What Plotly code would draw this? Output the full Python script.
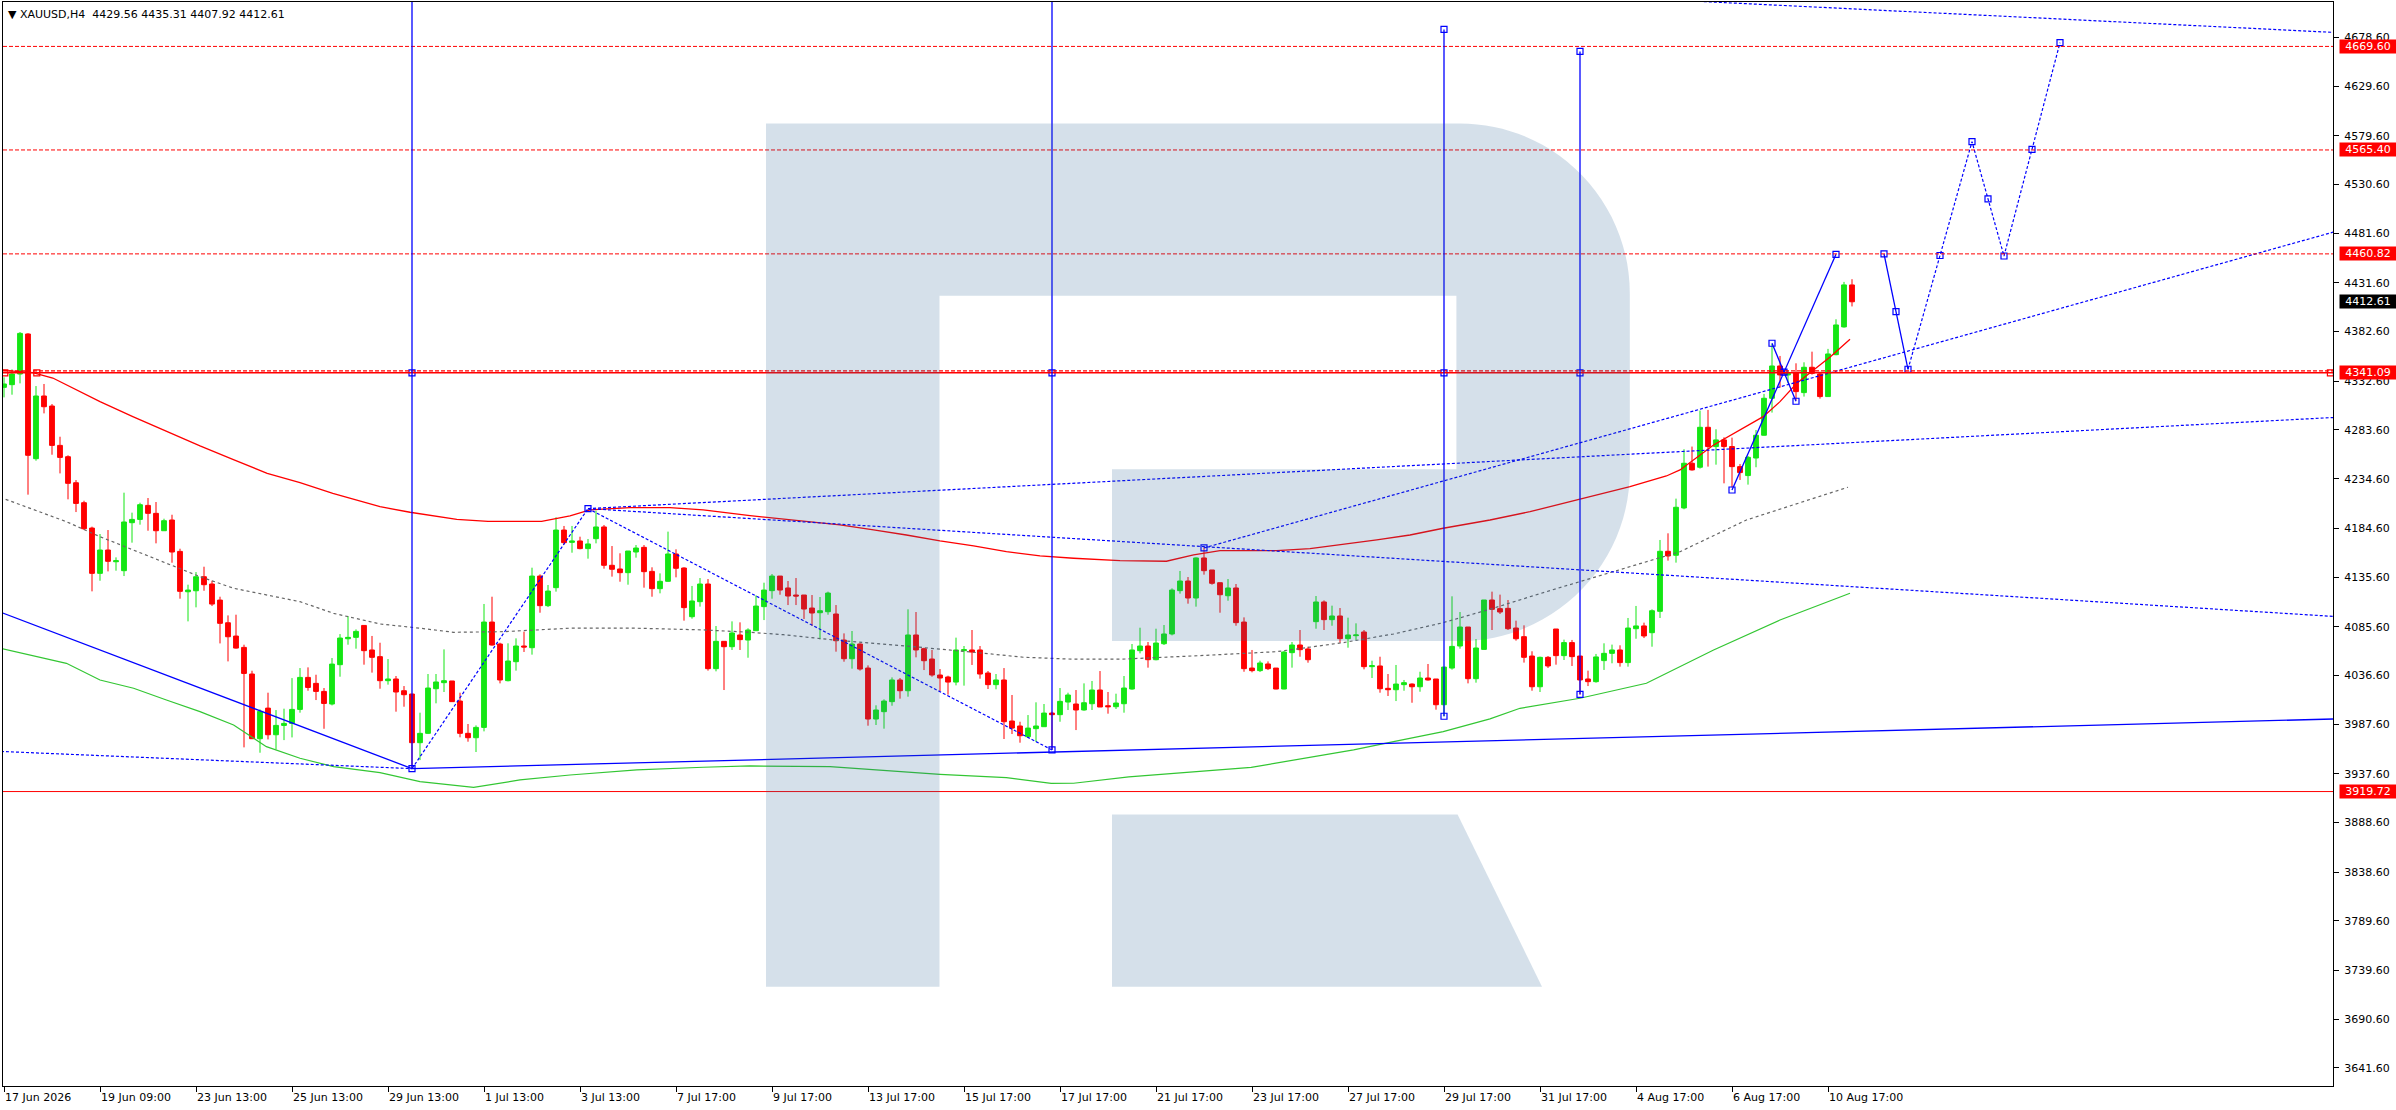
import plotly.graph_objects as go

# ---------------- data ----------------
bar_index = list(range(232))

opens = [4326.5, 4329.2, 4339.9, 4380.2, 4254.7, 4317.8, 4307.7, 4268.1, 4256.7, 4230.5,
         4210.4, 4184.9, 4139.3, 4162.8, 4151.0, 4142.0, 4190.3, 4193.6, 4207.7, 4199.7,
         4182.2, 4193.0, 4161.4, 4120.8, 4121.8, 4135.9, 4128.6, 4112.4, 4089.6, 4076.2,
         4064.8, 4038.0, 3972.9, 4003.7, 3976.9, 3986.3, 3988.3, 4002.4, 4034.6, 4028.6,
         4020.5, 4007.8, 4047.4, 4073.5, 4074.9, 4086.9, 4062.2, 4055.5, 4031.3, 4033.0,
         4021.2, 4017.9, 3968.9, 3978.3, 4023.2, 4029.3, 4031.0, 4010.8, 3978.3, 3973.9,
         3984.3, 4090.3, 4068.2, 4031.3, 4050.4, 4066.2, 4064.5, 4136.6, 4106.8, 4124.9,
         4182.9, 4170.5, 4171.9, 4164.2, 4174.2, 4186.0, 4147.4, 4143.7, 4140.0, 4160.8,
         4165.5, 4141.3, 4123.9, 4131.3, 4158.8, 4144.7, 4095.7, 4110.8, 4128.6, 4043.4,
         4070.9, 4065.5, 4077.3, 4072.2, 4081.6, 4105.8, 4121.9, 4136.6, 4124.6, 4117.5,
         4117.5, 4104.4, 4099.7, 4100.7, 4098.4, 4072.2, 4053.4, 4068.2, 4044.0, 3992.7,
         4000.1, 4010.2, 4032.0, 4021.2, 4077.3, 4063.5, 4053.1, 4037.0, 4035.0, 4029.9,
         4061.5, 4062.2, 4062.2, 4039.0, 4027.3, 4032.0, 3990.7, 3985.7, 3974.9, 3983.0,
         3985.0, 3998.7, 3997.1, 4009.8, 4007.8, 4001.8, 4008.1, 4021.9, 4006.1, 4005.1,
         4008.1, 4022.9, 4061.5, 4066.2, 4052.4, 4068.5, 4078.3, 4121.9, 4131.6, 4114.5,
         4154.8, 4142.7, 4129.9, 4116.8, 4124.6, 4090.3, 4044.0, 4041.4, 4048.1, 4044.0,
         4022.9, 4059.5, 4067.2, 4063.2, 4090.7, 4110.5, 4092.7, 4096.4, 4073.6, 4076.6,
         4080.3, 4045.4, 4046.1, 4023.6, 4022.2, 4027.3, 4027.9, 4025.2, 4034.0, 4033.0,
         4007.1, 4044.0, 4066.2, 4085.3, 4033.3, 4062.8, 4112.5, 4103.8, 4104.1, 4084.3,
         4075.6, 4056.1, 4025.2, 4054.8, 4083.3, 4056.5, 4069.6, 4056.1, 4033.0, 4030.3,
         4051.5, 4058.8, 4062.2, 4049.5, 4083.6, 4086.4, 4079.6, 4101.1, 4161.5, 4157.5,
         4205.1, 4250.1, 4246.1, 4286.3, 4266.9, 4273.6, 4266.9, 4246.7, 4237.7, 4255.4,
         4278.3, 4315.5, 4348.0, 4339.0, 4341.3, 4321.2, 4346.7, 4340.0, 4317.2, 4359.4,
         4387.3, 4429.56]

highs = [4336.6, 4344.6, 4382.2, 4381.0, 4327.8, 4329.9, 4309.7, 4276.8, 4258.1, 4233.2,
         4212.4, 4186.3, 4178.9, 4182.9, 4155.4, 4220.5, 4200.4, 4210.4, 4215.1, 4211.1,
         4194.3, 4198.3, 4164.1, 4127.9, 4140.6, 4146.0, 4131.9, 4115.8, 4097.0, 4097.7,
         4067.5, 4041.3, 4002.4, 4019.2, 4001.7, 4003.1, 4033.9, 4044.0, 4044.7, 4037.3,
         4023.9, 4054.1, 4078.2, 4096.3, 4082.9, 4086.9, 4076.3, 4069.5, 4053.1, 4036.0,
         4025.9, 4017.9, 3999.1, 4038.0, 4038.0, 4062.8, 4031.0, 4019.2, 3987.7, 3986.3,
         4108.5, 4115.8, 4069.5, 4068.9, 4073.9, 4080.6, 4145.0, 4138.3, 4127.6, 4195.7,
         4187.0, 4187.0, 4176.2, 4173.9, 4202.4, 4188.0, 4166.8, 4159.5, 4161.8, 4167.8,
         4167.8, 4145.4, 4139.3, 4181.3, 4163.5, 4145.4, 4126.6, 4134.6, 4133.6, 4086.3,
         4070.9, 4091.0, 4090.0, 4084.0, 4117.2, 4129.9, 4138.6, 4136.6, 4131.6, 4134.6,
         4117.5, 4117.5, 4115.5, 4120.9, 4107.4, 4078.9, 4081.3, 4068.9, 4046.7, 4006.5,
         4012.5, 4034.6, 4034.0, 4103.1, 4100.4, 4064.5, 4062.2, 4043.0, 4036.3, 4074.6,
         4066.2, 4082.3, 4066.2, 4041.0, 4038.0, 4044.0, 4016.9, 3990.0, 3996.7, 4009.5,
         4007.8, 4000.0, 4023.9, 4019.2, 4021.9, 4028.6, 4031.0, 4041.0, 4019.9, 4018.2,
         4036.0, 4068.2, 4084.6, 4070.2, 4083.6, 4087.3, 4124.2, 4141.7, 4135.6, 4155.4,
         4165.5, 4142.7, 4129.9, 4133.6, 4128.6, 4095.0, 4062.2, 4051.4, 4050.7, 4044.0,
         4061.1, 4070.2, 4082.3, 4065.5, 4116.5, 4112.1, 4106.8, 4104.4, 4094.7, 4089.0,
         4082.3, 4051.4, 4055.4, 4038.0, 4047.1, 4032.0, 4028.6, 4040.3, 4048.1, 4033.0,
         4045.0, 4116.2, 4100.4, 4085.3, 4073.2, 4112.5, 4120.9, 4117.9, 4112.5, 4091.7,
         4087.0, 4060.9, 4055.5, 4056.1, 4083.3, 4072.6, 4072.3, 4056.1, 4041.4, 4058.2,
         4068.9, 4067.6, 4066.9, 4094.4, 4106.5, 4089.7, 4103.1, 4172.9, 4179.6, 4214.5,
         4264.2, 4266.9, 4303.1, 4303.8, 4284.3, 4276.2, 4275.9, 4249.4, 4257.5, 4283.6,
         4319.9, 4370.2, 4358.1, 4343.3, 4350.7, 4351.7, 4362.4, 4342.3, 4365.2, 4395.0,
         4432.6, 4435.31]

lows = [4316.4, 4319.1, 4330.5, 4218.5, 4252.7, 4300.3, 4258.7, 4239.9, 4213.8, 4201.0,
        4182.9, 4121.2, 4131.9, 4141.3, 4142.0, 4136.6, 4170.2, 4188.3, 4182.2, 4169.5,
        4182.2, 4150.0, 4113.8, 4091.0, 4105.1, 4121.8, 4106.4, 4068.8, 4050.7, 4063.5,
        3964.2, 3972.9, 3958.8, 3972.2, 3962.1, 3971.5, 3974.2, 3999.1, 4021.2, 4011.8,
        3982.9, 4006.4, 4035.3, 4067.5, 4063.5, 4047.4, 4039.4, 4023.2, 4027.3, 4000.1,
        4005.1, 3943.0, 3951.4, 3977.6, 4008.5, 4019.9, 4010.2, 3974.3, 3969.9, 3959.5,
        3980.3, 4066.5, 4028.6, 4030.6, 4041.4, 4060.2, 4057.5, 4099.7, 4105.4, 4120.9,
        4168.2, 4160.1, 4163.5, 4154.1, 4169.5, 4144.0, 4136.0, 4130.9, 4127.9, 4155.1,
        4124.9, 4115.8, 4119.2, 4130.9, 4135.3, 4091.7, 4093.7, 4105.8, 4041.4, 4040.7,
        4021.9, 4062.2, 4062.2, 4054.4, 4081.6, 4092.3, 4113.8, 4117.8, 4107.4, 4107.4,
        4093.4, 4086.3, 4072.9, 4097.7, 4060.5, 4050.4, 4043.4, 4041.4, 3986.0, 3986.7,
        3983.0, 4006.1, 4013.2, 4015.2, 4054.8, 4042.0, 4035.3, 4020.9, 4017.2, 4026.6,
        4026.3, 4047.1, 4033.3, 4022.9, 4022.6, 3972.6, 3977.6, 3968.9, 3974.3, 3969.6,
        3985.0, 3962.0, 3990.0, 4001.8, 3981.6, 4001.1, 4001.8, 4004.8, 3998.1, 4002.8,
        3999.1, 4022.2, 4058.8, 4044.4, 4051.8, 4067.2, 4076.9, 4118.9, 4108.8, 4105.8,
        4138.0, 4127.9, 4099.7, 4111.8, 4086.6, 4040.3, 4039.7, 4040.0, 4042.0, 4022.6,
        4022.6, 4044.4, 4055.4, 4049.4, 4083.6, 4082.3, 4086.6, 4069.5, 4064.5, 4072.2,
        4042.7, 4034.0, 4019.2, 4015.9, 4010.8, 4021.2, 4009.1, 4020.2, 4031.3, 4002.1,
        3995.5, 4042.4, 4063.5, 4028.6, 4029.3, 4062.2, 4082.3, 4098.4, 4082.3, 4071.6,
        4049.5, 4021.2, 4019.9, 4044.1, 4047.4, 4052.1, 4046.1, 4017.2, 4025.9, 4029.3,
        4042.1, 4048.8, 4045.4, 4045.4, 4073.5, 4074.2, 4065.5, 4094.4, 4152.1, 4150.1,
        4203.8, 4242.7, 4244.7, 4246.7, 4248.7, 4229.9, 4225.9, 4233.3, 4228.6, 4246.1,
        4277.9, 4301.1, 4326.2, 4330.6, 4313.2, 4317.2, 4339.3, 4315.2, 4317.2, 4358.8,
        4386.6, 4407.92]

closes = [4329.9, 4339.9, 4380.8, 4258.1, 4317.8, 4307.0, 4268.1, 4256.0, 4229.9, 4209.7,
          4184.2, 4139.3, 4162.8, 4151.4, 4152.0, 4191.0, 4193.6, 4208.4, 4199.7, 4182.2,
          4192.3, 4160.8, 4121.2, 4122.5, 4135.9, 4127.9, 4108.4, 4089.0, 4075.5, 4064.1,
          4038.6, 3972.9, 4000.4, 3976.9, 3986.3, 3988.3, 4002.4, 4034.6, 4024.5, 4020.5,
          4008.4, 4048.0, 4074.2, 4074.9, 4080.9, 4061.5, 4054.8, 4031.3, 4033.0, 4019.9,
          4017.2, 3968.9, 3978.3, 4023.9, 4030.0, 4031.3, 4010.2, 3978.3, 3973.9, 3984.3,
          4090.3, 4067.2, 4032.0, 4051.1, 4066.2, 4065.2, 4136.6, 4106.8, 4121.5, 4182.9,
          4170.2, 4171.9, 4164.2, 4168.9, 4186.0, 4147.4, 4143.4, 4140.0, 4161.8, 4164.8,
          4141.0, 4123.9, 4131.3, 4158.8, 4144.4, 4104.8, 4111.5, 4128.6, 4043.4, 4070.9,
          4065.5, 4079.3, 4072.6, 4082.3, 4106.4, 4122.5, 4136.6, 4122.5, 4116.5, 4116.5,
          4103.4, 4099.4, 4101.7, 4119.5, 4071.5, 4053.4, 4068.2, 4043.0, 3992.7, 4001.8,
          4010.8, 4032.0, 4021.2, 4077.3, 4062.2, 4051.4, 4037.0, 4034.0, 4029.9, 4062.2,
          4062.5, 4060.1, 4038.0, 4027.3, 4032.0, 3990.0, 3983.6, 3975.9, 3983.6, 3985.7,
          3998.7, 3997.1, 4010.5, 4016.9, 4001.8, 4009.1, 4021.9, 4004.8, 4005.1, 4008.8,
          4023.9, 4062.2, 4066.2, 4052.4, 4069.2, 4078.3, 4122.5, 4131.6, 4114.5, 4154.8,
          4142.0, 4129.3, 4117.8, 4124.6, 4089.7, 4043.4, 4041.4, 4049.1, 4043.4, 4022.9,
          4060.1, 4067.2, 4062.5, 4052.4, 4110.5, 4092.7, 4096.4, 4073.6, 4077.3, 4077.3,
          4045.4, 4046.4, 4023.2, 4022.2, 4027.9, 4029.3, 4025.2, 4034.0, 4032.0, 4007.1,
          4045.0, 4065.8, 4085.3, 4033.3, 4064.2, 4112.5, 4103.1, 4100.4, 4083.6, 4073.5,
          4054.8, 4025.2, 4054.8, 4046.1, 4056.5, 4069.6, 4055.5, 4032.0, 4030.3, 4055.2,
          4058.8, 4062.2, 4049.5, 4084.3, 4086.4, 4076.3, 4101.7, 4161.5, 4156.8, 4205.8,
          4250.1, 4243.4, 4286.3, 4266.9, 4273.6, 4266.9, 4246.7, 4240.7, 4256.1, 4278.3,
          4315.5, 4348.0, 4339.0, 4341.3, 4322.2, 4346.7, 4340.6, 4317.2, 4360.1, 4389.3,
          4429.6, 4412.61]

x_tick_bars = [0, 12, 24, 36, 48, 60, 72, 84, 96, 108, 120, 132, 144, 156, 168, 180, 192, 204, 216, 228]
x_tick_labels = ["17 Jun 2026", "19 Jun 09:00", "23 Jun 13:00", "25 Jun 13:00", "29 Jun 13:00",
                 "1 Jul 13:00", "3 Jul 13:00", "7 Jul 17:00", "9 Jul 17:00", "13 Jul 17:00",
                 "15 Jul 17:00", "17 Jul 17:00", "21 Jul 17:00", "23 Jul 17:00", "27 Jul 17:00",
                 "29 Jul 17:00", "31 Jul 17:00", "4 Aug 17:00", "6 Aug 17:00", "10 Aug 17:00"]
y_tick_values = [4678.60, 4629.60, 4579.60, 4530.60, 4481.60, 4431.60, 4382.60, 4332.60,
                 4283.60, 4234.60, 4184.60, 4135.60, 4085.60, 4036.60, 3987.60, 3937.60,
                 3888.60, 3838.60, 3789.60, 3739.60, 3690.60, 3641.60]

levels_dashed = [4669.60, 4565.40, 4460.82]
level_double = 4341.09
level_solid = 3919.72
last_price = 4412.61
header_text = "XAUUSD,H4\u00a0\u00a04429.56 4435.31 4407.92 4412.61"

# moving averages
ma_red_bars = [-1, 3.6, 6.1, 12, 16.1, 20.4, 24.5, 28.6, 32.9, 37, 41.1, 47, 50.75, 56.6, 60.5,
               67.2, 70.75, 73.25, 78.25, 83.25, 87.4, 93.25, 100.3, 104.5, 108.7, 112.8, 117,
               121.2, 125.3, 129.5, 133.7, 139.5, 145.3, 148.7, 152, 159.1, 163.25, 167.4,
               171.6, 175.75, 179.9, 185.75, 190.75, 197, 203.25, 207.8, 209.5, 213.7, 217.8,
               219.9, 222, 224.1, 226.2, 228.3, 230.75]
ma_red_vals = [4344.0, 4341.3, 4335.9, 4312.1, 4297.0, 4281.9, 4267.5, 4254.1, 4240.0, 4230.6,
               4219.9, 4206.4, 4200.8, 4193.7, 4191.7, 4191.7, 4197.1, 4203.1, 4205.4, 4205.4,
               4203.1, 4197.4, 4191.3, 4188.0, 4183.0, 4177.9, 4171.9, 4166.9, 4161.1, 4156.8,
               4154.5, 4152.1, 4151.5, 4157.8, 4162.2, 4162.2, 4164.2, 4168.2, 4172.9, 4177.9,
               4184.7, 4193.0, 4201.4, 4213.9, 4226.6, 4237.3, 4243.4, 4268.5, 4286.9, 4297.0,
               4312.1, 4330.6, 4344.0, 4357.4, 4374.9]

ma_gray_bars = [-0.5, 7.8, 12, 16.2, 20.3, 24.5, 28.7, 32.8, 37, 41.2, 47, 52, 56.2, 62.4, 70.75,
                79.1, 87.4, 93.25, 97.4, 104.5, 112.8, 121.2, 127.4, 133.7, 139.5, 149.5, 159.1,
                167.4, 173.7, 179.9, 185.75, 192.8, 201.2, 209.5, 217.8, 226.2, 230.5]
ma_gray_vals = [4215.9, 4191.3, 4176.2, 4162.9, 4149.5, 4136.0, 4124.3, 4117.6, 4110.8, 4099.1,
                4088.4, 4084.1, 4080.0, 4080.6, 4084.1, 4084.1, 4082.4, 4080.0, 4077.6, 4071.6,
                4066.2, 4059.9, 4054.9, 4052.9, 4052.9, 4056.5, 4060.5, 4069.6, 4078.3, 4089.7,
                4103.2, 4120.9, 4141.0, 4161.1, 4193.0, 4214.9, 4226.0]

ma_green_bars = [-0.5, 7.8, 12, 16.2, 20.3, 24.5, 28.7, 32.8, 37, 41.2, 47, 52, 58.7, 64.5, 70.75,
                 79.1, 87.4, 93.25, 103.25, 110.75, 117, 125.3, 130.9, 133.7, 140.6, 155.9, 168.7,
                 173.7, 179.9, 185.75, 189.5, 197, 205.3, 213.7, 222, 230.75]
ma_green_vals = [4063.9, 4048.8, 4032.0, 4023.7, 4011.9, 4000.1, 3986.7, 3964.9, 3953.2, 3944.8,
                 3938.7, 3929.7, 3924.0, 3931.4, 3936.4, 3941.5, 3944.2, 3945.5, 3944.8, 3940.7,
                 3937.1, 3933.7, 3927.9, 3928.1, 3934.4, 3944.1, 3961.6, 3969.9, 3980.0, 3992.8,
                 4003.5, 4013.6, 4028.7, 4062.2, 4092.4, 4119.3]

# chart objects: trend lines (bar, price anchors)
solid_lines = [
    ([-1, 51], [4102.0, 3942.8]),
    ([51, 292], [3942.8, 3992.9]),
    ([216, 229], [4223.2, 4460.4]),
    ([221, 224], [4370.9, 4312.5]),
    ([235, 238], [4460.8, 4344.7]),
]
dotted_lines = [
    ([-1, 51], [3960.3, 3942.8]),
    ([51, 73], [3942.8, 4204.5]),
    ([73, 131], [4204.5, 3961.6]),
    ([73, 292], [4204.5, 4296.5]),
    ([73, 292], [4204.5, 4095.6]),
    ([150, 292], [4164.9, 4484.6]),
    ([200, 292], [4719.6, 4683.4]),
    ([238, 246, 250, 257], [4344.7, 4573.7, 4458.7, 4673.4]),
]
vertical_lines = [(51, 3942.8, 4739.4), (131, 3961.6, 4720.6), (180, 3995.5, 4686.7), (197, 4017.6, 4664.6)]
anchor_bars = [51, 51, 131, 131, 180, 180, 180, 197, 197, 197, 73, 150,
               216, 221, 224, 229, 222.5, 235, 236.5, 238, 242, 246, 248, 250, 253.5, 257]
anchor_vals = [3942.8, 4341.09, 3961.6, 4341.09, 3995.5, 4341.09, 4686.7, 4017.6, 4341.09, 4664.6,
               4204.5, 4164.9, 4223.2, 4370.9, 4312.5, 4460.4, 4341.8, 4460.8, 4402.7, 4344.7,
               4459.2, 4573.7, 4516.2, 4458.7, 4566.0, 4673.4]
red_anchor_bars = [0.1, 4.1, 290.8]

# ---------------- styling ----------------
GREEN = "#14e614"
RED = "#ff0000"
BLUE = "#0000ff"
FONT = "DejaVu Sans"
W, H = 2396, 1110
L, R, T, B = 3, 63, 2, 24
PW, PH = W - L - R, H - T - B
X_RANGE = [-0.125, 291.125]
Y_RANGE = [3623.4, 4714.3]

fig = go.Figure()

fig.add_trace(go.Candlestick(
    x=bar_index, open=opens, high=highs, low=lows, close=closes,
    increasing=dict(line=dict(color=GREEN, width=1), fillcolor=GREEN),
    decreasing=dict(line=dict(color=RED, width=1), fillcolor=RED),
    whiskerwidth=0, hoverinfo="skip", showlegend=False))

fig.add_trace(go.Scatter(x=ma_green_bars, y=ma_green_vals, mode="lines",
                         line=dict(color="#33c633", width=1.2), hoverinfo="skip"))
fig.add_trace(go.Scatter(x=ma_gray_bars, y=ma_gray_vals, mode="lines",
                         line=dict(color="#666666", width=1.2, dash="3px,3px"), hoverinfo="skip"))
fig.add_trace(go.Scatter(x=ma_red_bars, y=ma_red_vals, mode="lines",
                         line=dict(color=RED, width=1.3), hoverinfo="skip"))

for xs, ys in solid_lines:
    fig.add_trace(go.Scatter(x=xs, y=ys, mode="lines", line=dict(color=BLUE, width=1.3),
                             hoverinfo="skip"))
for xs, ys in dotted_lines:
    fig.add_trace(go.Scatter(x=xs, y=ys, mode="lines",
                             line=dict(color=BLUE, width=1.2, dash="3px,2px"), hoverinfo="skip"))

fig.add_trace(go.Scatter(x=anchor_bars, y=anchor_vals, mode="markers",
                         marker=dict(symbol="square-open", size=6, color=BLUE, line=dict(width=1.2)),
                         hoverinfo="skip"))
fig.add_trace(go.Scatter(x=red_anchor_bars, y=[level_double] * len(red_anchor_bars), mode="markers",
                         marker=dict(symbol="square-open", size=6, color=RED, line=dict(width=1.2)),
                         hoverinfo="skip"))

shapes = []
for v in levels_dashed:
    shapes.append(dict(type="line", xref="paper", x0=0, x1=1, yref="y", y0=v, y1=v,
                       line=dict(color=RED, width=1, dash="4px,2px"), layer="above"))
shapes.append(dict(type="line", xref="paper", x0=0, x1=1, yref="y", y0=level_double + 2.0,
                   y1=level_double + 2.0, line=dict(color=RED, width=1.2, dash="4px,2px"), layer="above"))
shapes.append(dict(type="line", xref="paper", x0=0, x1=1, yref="y", y0=level_double, y1=level_double,
                   line=dict(color=RED, width=1.5), layer="above"))
shapes.append(dict(type="line", xref="paper", x0=0, x1=1, yref="y", y0=level_solid, y1=level_solid,
                   line=dict(color=RED, width=1), layer="above"))
for bx, y0, y1 in vertical_lines:
    shapes.append(dict(type="line", xref="x", x0=bx, x1=bx, yref="y", y0=y0, y1=y1,
                       line=dict(color=BLUE, width=1.3), layer="above"))


# watermark "R" logo (pixel geometry of the picture -> paper coords)
def px(x):
    return (x - L) / PW


def py(y):
    return (H - B - y) / PH


def path(cmds):
    out = []
    for c in cmds:
        if c[0] == "Z":
            out.append("Z")
        else:
            pts = c[1:]
            coords = " ".join(f"{px(pts[i]):.5f},{py(pts[i + 1]):.5f}" for i in range(0, len(pts), 2))
            out.append(c[0] + " " + coords)
    return " ".join(out)


logo_body = [("M", 766, 123.5), ("L", 1459.8, 123.5),
             ("C", 1553.7, 123.5, 1629.8, 199.6, 1629.8, 293.5),
             ("L", 1629.8, 471), ("C", 1629.8, 564.9, 1553.7, 641, 1459.8, 641),
             ("L", 1112, 641), ("L", 1112, 469.3), ("L", 1456.4, 469.3), ("L", 1456.4, 295.8),
             ("L", 939.5, 295.8), ("L", 939.5, 986.7), ("L", 766, 986.7), ("Z",)]
logo_leg = [("M", 1112, 814.4), ("L", 1457.6, 814.4), ("L", 1542, 986.7), ("L", 1112, 986.7), ("Z",)]
for p in (logo_body, logo_leg):
    shapes.append(dict(type="path", xref="paper", yref="paper", path=path(p),
                       fillcolor="rgba(45,98,150,0.2)", line=dict(width=0), layer="above"))

annotations = []
for b, t in zip(x_tick_bars, x_tick_labels):
    annotations.append(dict(x=b, xref="x", y=0, yref="paper", text=t, showarrow=False,
                            xanchor="left", yanchor="top", xshift=-1, yshift=-3,
                            font=dict(family=FONT, size=11, color="black")))
for v in levels_dashed + [level_double, level_solid]:
    annotations.append(dict(x=1, xref="paper", y=v, yref="y", text=f"{v:.2f}", showarrow=False,
                            xanchor="left", yanchor="middle", xshift=6, width=54, height=11,
                            borderpad=1, bgcolor=RED, align="center",
                            font=dict(family=FONT, size=11, color="white")))
annotations.append(dict(x=1, xref="paper", y=last_price, yref="y", text=f"{last_price:.2f}",
                        showarrow=False, xanchor="left", yanchor="middle", xshift=6, width=54,
                        height=11, borderpad=1, bgcolor="black", align="center",
                        font=dict(family=FONT, size=11, color="white")))
annotations.append(dict(x=0, xref="paper", y=1, yref="paper", text="\u25bc " + header_text,
                        showarrow=False, xanchor="left", yanchor="top", xshift=3, yshift=-4,
                        font=dict(family=FONT, size=11, color="black")))

fig.update_layout(
    width=W, height=H, margin=dict(l=L, r=R, t=T, b=B),
    paper_bgcolor="white", plot_bgcolor="white", showlegend=False,
    boxgap=0.4, boxgroupgap=0,
    shapes=shapes, annotations=annotations,
    xaxis=dict(range=X_RANGE, showgrid=False, zeroline=False, showline=True, linecolor="black",
               linewidth=1, mirror=True, ticks="outside", ticklen=5, tickcolor="black",
               tickvals=x_tick_bars, showticklabels=False, rangeslider=dict(visible=False)),
    yaxis=dict(range=Y_RANGE, side="right", showgrid=False, zeroline=False, showline=True,
               linecolor="black", linewidth=1, mirror=True, ticks="outside", ticklen=5,
               tickcolor="black", tickvals=y_tick_values,
               ticktext=[f"{v:.2f}" for v in y_tick_values],
               tickfont=dict(family=FONT, size=11, color="black"), ticklabelstandoff=3),
)

fig.write_html("out.html", config={"displayModeBar": False},
               post_script="document.body.style.margin='0';document.body.style.overflow='hidden';")
